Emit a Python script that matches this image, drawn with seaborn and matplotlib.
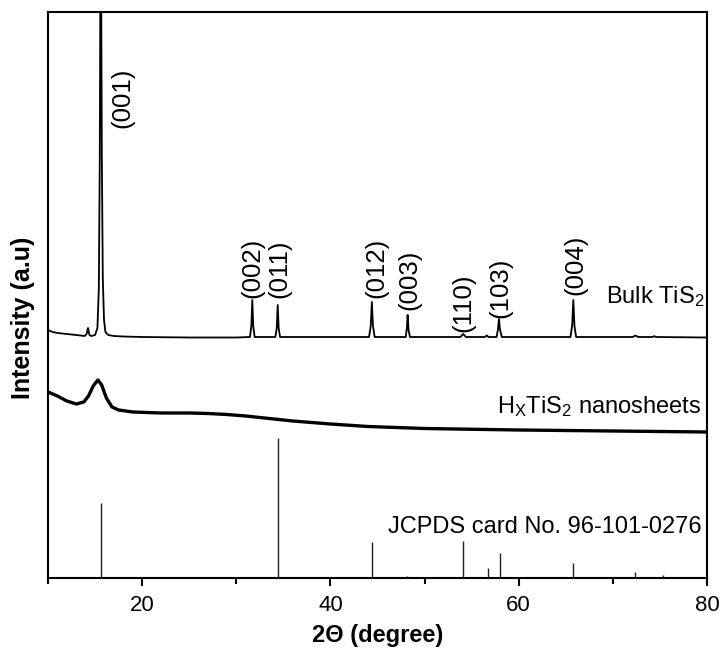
import matplotlib
matplotlib.use("Agg")
import matplotlib.pyplot as plt
import pandas as pd
import seaborn as sns
from matplotlib.ticker import MultipleLocator

# Bulk TiS2 diffractogram (2-theta in degrees, intensity in arbitrary units)
bulk_two_theta = [10.0, 10.5, 11.0, 12.0, 13.0, 13.9, 14.1, 14.25, 14.4, 14.6, 15.0, 15.25,
                  15.4, 15.5, 15.6, 15.72, 15.82, 15.95, 16.1, 16.4, 17.0, 18.0, 20.0, 25.0,
                  30.0, 31.45, 31.6, 31.7, 31.8, 31.95, 34.15, 34.3, 34.4, 34.5, 34.65,
                  44.1, 44.28, 44.4, 44.52, 44.7, 48.0, 48.12, 48.2, 48.3, 48.45,
                  53.8, 54.1, 54.4, 56.4, 56.6, 56.8, 57.65, 57.8, 57.9, 58.0, 58.2,
                  65.5, 65.68, 65.8, 65.92, 66.1, 72.1, 72.4, 72.7, 74.2, 74.4, 74.6, 80.0]
bulk_intensity = [248, 246, 245, 244, 243, 242, 244, 250, 243, 242, 243, 250,
                  290, 420, 700, 420, 300, 258, 246, 243, 242, 241.5, 241, 240.5,
                  240.5, 241, 252, 278, 252, 241, 241, 250, 273, 250, 241,
                  241, 252, 276, 252, 241, 241, 250, 263, 248, 241,
                  241, 244, 241, 241, 242.5, 241, 241, 249, 259, 249, 241,
                  241, 253, 278, 252, 241, 241, 242.5, 241, 241, 241.8, 241, 240.5]

# HxTiS2 nanosheets diffractogram
nano_two_theta = [10.0, 11.0, 12.0, 13.0, 13.8, 14.3, 14.8, 15.3, 15.7, 16.2, 16.8, 17.5,
                  19.0, 22.0, 25.0, 27.0, 29.0, 31.0, 33.0, 36.0, 40.0, 44.0, 50.0, 60.0,
                  70.0, 80.0]
nano_intensity = [186, 182, 177, 174, 176, 182, 192, 198, 193, 180, 171, 168,
                  166, 165, 165, 164.5, 163.5, 162, 160, 157, 154, 151.5, 149.5, 148,
                  147, 146]

# Reference card stick pattern
ref_two_theta = [15.6, 30.4, 31.5, 34.4, 44.4, 48.1, 54.1, 56.7, 58.0, 65.8, 72.4, 75.3]
ref_intensity = [75, 1.5, 1.5, 140, 36, 2, 37, 10, 25, 15, 6, 3]

# Miller indices of the bulk reflections and where their labels sit
hkl_labels = ["(001)", "(002)", "(011)", "(012)", "(003)", "(110)", "(103)", "(004)"]
hkl_label_x = [17.9, 31.75, 34.6, 44.85, 48.4, 54.15, 58.1, 66.05]
hkl_label_y = [450, 280, 280, 280, 268, 246, 260, 283]

sns.set_theme(style="ticks")
plt.rcParams["font.family"] = ["Liberation Sans", "DejaVu Sans"]
plt.rcParams["mathtext.fontset"] = "custom"
plt.rcParams["mathtext.rm"] = "Liberation Sans"
plt.rcParams["mathtext.it"] = "Liberation Sans"
plt.rcParams["mathtext.default"] = "regular"
plt.rcParams["text.color"] = "black"
plt.rcParams["axes.labelcolor"] = "black"
plt.rcParams["xtick.color"] = "black"
plt.rcParams["ytick.color"] = "black"

fig = plt.figure(figsize=(7.23, 6.52), dpi=100)
ax = fig.add_axes([48 / 723, 74 / 652, 659 / 723, 566 / 652])

bulk = pd.DataFrame({"two_theta": bulk_two_theta, "intensity": bulk_intensity})
nano = pd.DataFrame({"two_theta": nano_two_theta, "intensity": nano_intensity})

sns.lineplot(data=bulk, x="two_theta", y="intensity", ax=ax, color="black",
             linewidth=1.3, sort=False, estimator=None)
sns.lineplot(data=nano, x="two_theta", y="intensity", ax=ax, color="black",
             linewidth=2.4, sort=False, estimator=None)
ax.vlines(ref_two_theta, 0, ref_intensity, color="#222222", linewidth=1.0)

for lab, x, y in zip(hkl_labels, hkl_label_x, hkl_label_y):
    ax.text(x, y, lab, rotation=90, ha="center", va="bottom", fontsize=18.5)

ax.text(79.7, 275, "Bulk TiS$_2$", ha="right", va="baseline", fontsize=17)
ax.text(79.4, 165, "H$_X$TiS$_2$ nanosheets", ha="right", va="baseline", fontsize=17)
ax.text(79.4, 45, "JCPDS card No. 96-101-0276", ha="right", va="baseline", fontsize=17)

ax.set_xlim(10, 80)
ax.set_ylim(0, 566)
ax.xaxis.set_major_locator(MultipleLocator(20))
ax.xaxis.set_minor_locator(MultipleLocator(10))
ax.set_yticks([])
ax.tick_params(axis="x", which="major", direction="out", length=6, width=1.5,
               labelsize=16, pad=6)
ax.tick_params(axis="x", which="minor", direction="out", length=4, width=1.5)

for side in ["left", "right", "top", "bottom"]:
    ax.spines[side].set_visible(True)
    ax.spines[side].set_linewidth(1.5)
    ax.spines[side].set_color("black")

ax.set_xlabel("2\u0398 (degree)", fontsize=17, fontweight="bold", labelpad=6)
ax.set_ylabel("Intensity (a.u)", fontsize=18, fontweight="bold")
ax.yaxis.set_label_coords(-0.02, 0.46)

fig.savefig("out.png", dpi=100)
